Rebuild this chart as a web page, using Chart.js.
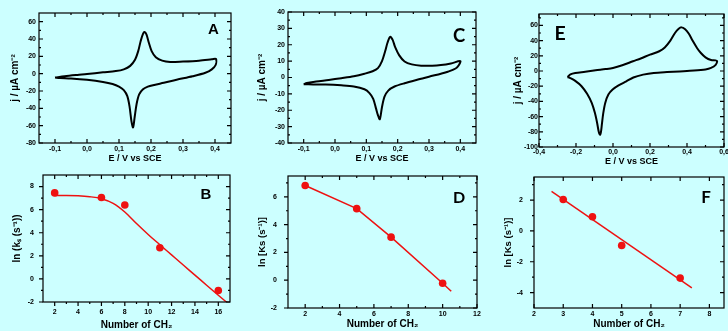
<!DOCTYPE html>
<html><head><meta charset="utf-8">
<script src="https://cdn.jsdelivr.net/npm/chart.js@4.4.1/dist/chart.umd.min.js"></script>
<style>
html,body{margin:0;padding:0;background:#ccffff;width:728px;height:331px;overflow:hidden;}
.layer{position:absolute;left:0;top:0;width:728px;height:331px;}
.lab{position:absolute;font-weight:bold;color:#000;line-height:1;transform:translate(-50%,-50%);white-space:nowrap;}
</style></head><body>
<div class="layer"><canvas id="cA" width="728" height="331"></canvas></div>
<div class="layer"><canvas id="cC" width="728" height="331"></canvas></div>
<div class="layer"><canvas id="cE" width="728" height="331"></canvas></div>
<div class="layer"><canvas id="cB" width="728" height="331"></canvas></div>
<div class="layer"><canvas id="cD" width="728" height="331"></canvas></div>
<div class="layer"><canvas id="cF" width="728" height="331"></canvas></div>
<div class="lab" style="left:213.5px;top:27.5px;font-family:'Liberation Sans',Arial;font-size:15px;">A</div>
<div class="lab" style="left:206px;top:193px;font-family:'Liberation Sans',Arial;font-size:15px;">B</div>
<div class="lab" style="left:459px;top:35px;font-family:Lato,'Open Sans';font-size:18.5px;">C</div>
<div class="lab" style="left:459px;top:197px;font-family:Lato,'Open Sans';font-size:16px;">D</div>
<div class="lab" style="left:560px;top:33px;font-family:Lato,'Open Sans';font-size:19.5px;">E</div>
<div class="lab" style="left:706px;top:196px;font-family:Lato,'Open Sans';font-size:17px;">F</div>
<script>
// ================= DATA =================
// Panel A : cyclic voltammogram (E / V vs SCE, j / uA cm-2)
const A_E = [-0.100,-0.07,-0.03,0.00,0.05,0.09,0.115,0.135,0.150,0.160,0.168,0.175,0.180,0.186,0.193,0.202,0.215,0.235,0.26,0.30,0.35,0.39,0.403,
             0.402,0.39,0.37,0.33,0.28,0.24,0.21,0.19,0.175,0.163,0.155,0.149,0.144,0.139,0.133,0.126,0.115,0.10,0.08,0.05,0.00,-0.05,-0.085,-0.100];
const A_j = [-4.5,-3.0,-1.5,-0.5,1.5,3.0,5.0,9,16,26,38,46,48,45,36,26,19,15,13.5,14,15,16.5,17,
             10,5,1,-3,-7,-10.5,-13,-15,-18,-24,-35,-50,-62,-55,-38,-26,-19,-15,-12,-9.5,-7,-5.5,-5,-4.5];
const A_xTicks = [-0.1,0.0,0.1,0.2,0.3,0.4];
const A_yTicks = [-80,-60,-40,-20,0,20,40,60];

// Panel C : cyclic voltammogram
const C_E = [-0.100,-0.09,-0.06,-0.02,0.02,0.06,0.094,0.12,0.137,0.150,0.160,0.168,0.176,0.184,0.192,0.205,0.222,0.245,0.275,0.31,0.338,0.37,0.40,
             0.395,0.385,0.36,0.338,0.30,0.275,0.222,0.19,0.17,0.158,0.150,0.143,0.137,0.131,0.122,0.11,0.094,0.06,0.02,-0.03,-0.07,-0.100];
const C_j = [-4.1,-3.4,-2.5,-1.5,-0.4,0.8,2.3,3.8,5.7,10,16,21.5,24.8,23,18.5,13.5,9.8,8,7.2,7.2,7.6,8.6,10,
             7.5,5.5,3.5,2.3,0.5,-0.8,-3.5,-5.5,-8,-11.7,-18,-25.5,-23,-19,-13,-9.5,-7.2,-5.5,-4.8,-4.3,-4.2,-4.1];
const C_xTicks = [-0.1,0.0,0.1,0.2,0.3,0.4];
const C_yTicks = [-40,-30,-20,-10,0,10,20,30,40];

// Panel E : cyclic voltammogram
const E_E = [-0.246,-0.23,-0.204,-0.15,-0.094,-0.04,0.0,0.05,0.108,0.15,0.2,0.25,0.28,0.31,0.335,0.355,0.37,0.39,0.41,0.43,0.455,0.475,0.50,0.53,0.555,0.563,
             0.555,0.53,0.5,0.438,0.36,0.292,0.22,0.163,0.11,0.072,0.03,-0.002,-0.025,-0.042,-0.053,-0.060,-0.065,-0.070,-0.077,-0.086,-0.098,-0.115,-0.14,-0.17,-0.204,-0.23,-0.246];
const E_j = [-8,-4.5,-2.6,-1,0.9,2.5,4,7.5,12.8,16.5,21.5,26,31,40,50,55.5,57.4,55,49,40,30,23.7,18,14.5,14,13,
             8,4,2,0.5,-0.5,-1.3,-2.5,-4.8,-8.5,-13.6,-19,-24.4,-31,-42,-56,-70,-80,-84,-80,-68,-55,-42,-30,-20,-13,-9.5,-8];
const E_xTicks = [-0.4,-0.2,0.0,0.2,0.4,0.6];
const E_yTicks = [-100,-80,-60,-40,-20,0,20,40,60];

// Panel B : ln(ks) vs number of CH2
const B_n   = [2,6,8,11,16];
const B_lnk = [7.45,7.05,6.4,2.7,-1.0];
const B_fitN = [2,3,4,5,6,7,8,9,10,11,12,13,14,15,16,16.8];
const B_fitY = [7.22,7.22,7.2,7.12,6.95,6.55,5.8,4.8,3.85,2.96,2.08,1.2,0.33,-0.55,-1.42,-2.1];
const B_xTicks = [2,4,6,8,10,12,14,16];
const B_yTicks = [-2,0,2,4,6,8];

// Panel D
const D_n   = [2,5,7,10];
const D_lnk = [6.82,5.15,3.1,-0.22];
const D_lineN = [2,5,7,10,10.5];
const D_lineY = [6.82,5.15,3.1,-0.22,-0.8];
const D_xTicks = [2,4,6,8,10,12];
const D_yTicks = [-2,0,2,4,6];

// Panel F
const F_n   = [3,4,5,7];
const F_lnk = [2.04,0.92,-0.94,-3.06];
const F_fitN = [2.6,7.4];
const F_fitY = [2.56,-3.7];
const F_xTicks = [2,3,4,5,6,7,8];
const F_yTicks = [-4,-2,0,2];

// ================= DRAWING =================
const RED = '#ee1111';
const pts = (xs, ys) => xs.map((x, i) => ({x: x, y: ys[i]}));
const fmt = (v, d) => d ? v.toFixed(d).replace('.', ',') : String(v);
const tickFont = {family: "'Liberation Sans', Arial", size: 7, weight: 'bold'};
const tf = s => ({family: "'Liberation Sans', Arial", size: s, weight: 'bold'});

const frameTicks = {
  id: 'frameTicks',
  afterDraw(chart, args, o) {
    const {ctx, chartArea: a} = chart;
    const xs = chart.scales.x, ys = chart.scales.y;
    ctx.save();
    ctx.strokeStyle = '#000';
    ctx.lineWidth = 1.2;
    ctx.strokeRect(a.left, a.top, a.right - a.left, a.bottom - a.top);
    const mk = (s, noMinor) => {
      const maj = s.ticks.map(t => t.value), mn = [];
      if (!noMinor) {
        const st = maj[1] - maj[0];
        for (let i = 0; i < maj.length - 1; i++) mn.push((maj[i] + maj[i + 1]) / 2);
        if (maj[0] - st / 2 > s.min) mn.push(maj[0] - st / 2);
        if (maj[maj.length - 1] + st / 2 < s.max) mn.push(maj[maj.length - 1] + st / 2);
      }
      return {maj, mn};
    };
    const X = mk(xs, o.noMinorX), Y = mk(ys, o.noMinorY);
    ctx.beginPath();
    const dx = (vals, len) => vals.forEach(v => {
      const p = xs.getPixelForValue(v);
      const d = o.xOut ? 1 : -1;
      ctx.moveTo(p, a.bottom); ctx.lineTo(p, a.bottom + d * len);
      ctx.moveTo(p, a.top); ctx.lineTo(p, a.top + len);
    });
    const dy = (vals, len) => vals.forEach(v => {
      const p = ys.getPixelForValue(v);
      const d = o.yOut ? -1 : 1;
      ctx.moveTo(a.left, p); ctx.lineTo(a.left + d * len, p);
      ctx.moveTo(a.right, p); ctx.lineTo(a.right - len, p);
    });
    dx(X.maj, 4); dx(X.mn, 2); dy(Y.maj, 4); dy(Y.mn, 2);
    ctx.stroke();
    ctx.restore();
  }
};

function panel(id, g, o) {
  return new Chart(document.getElementById(id), {
    type: 'scatter',
    data: {datasets: o.datasets},
    options: {
      responsive: false, animation: false, events: [],
      layout: {padding: {left: g.L - g.YW, top: g.T, right: 728 - g.R, bottom: 331 - g.B - g.XH}},
      plugins: {legend: {display: false}, tooltip: {enabled: false}, frameTicks: o.frame},
      scales: {
        x: {type: 'linear', min: o.xMin, max: o.xMax,
            afterBuildTicks: s => { s.ticks = o.xTicks.map(v => ({value: v})); },
            afterFit: s => { s.height = g.XH; s.paddingLeft = 0; s.paddingRight = 0; },
            grid: {display: false, drawTicks: false}, border: {display: false},
            ticks: {color: '#000', font: tickFont, padding: o.xPad, autoSkip: false, maxRotation: 0,
                    callback: v => fmt(v, o.xDec)},
            title: {display: true, text: o.xTitle, color: '#000', font: tf(o.xTs), padding: 0}},
        y: {type: 'linear', min: o.yMin, max: o.yMax,
            afterBuildTicks: s => { s.ticks = o.yTicks.map(v => ({value: v})); },
            afterFit: s => { s.width = g.YW; s.paddingTop = 0; s.paddingBottom = 0; },
            grid: {display: false, drawTicks: false}, border: {display: false},
            ticks: {color: '#000', font: tickFont, padding: o.yPad, autoSkip: false,
                    callback: v => fmt(v, 0)},
            title: {display: true, text: o.yTitle, color: '#000', font: tf(o.yTs), padding: 0}}
      }
    },
    plugins: [frameTicks]
  });
}

const cvSet = (xs, ys) => ({data: pts(xs, ys), showLine: true, borderColor: '#000', borderWidth: 2,
  pointRadius: 0, tension: 0.3, fill: false});
const dotSet = (xs, ys) => ({data: pts(xs, ys), showLine: false, pointRadius: 3.8,
  pointBackgroundColor: RED, pointBorderColor: RED, pointBorderWidth: 0});
const lineSet = (xs, ys, mono) => ({data: pts(xs, ys), showLine: true, borderColor: RED, borderWidth: 1.5,
  pointRadius: 0, cubicInterpolationMode: mono ? 'monotone' : 'default', tension: 0});

const jTitle = 'j / \u00b5A cm\u207b\u00b2';
const vTitle = 'E / V vs SCE';
const nTitle = 'Number of CH\u2082';

panel('cA', {L: 39, T: 13, R: 231, B: 143, YW: 30, XH: 21}, {
  datasets: [cvSet(A_E, A_j)], xMin: -0.15, xMax: 0.45, yMin: -80, yMax: 70,
  xTicks: A_xTicks, yTicks: A_yTicks, xDec: 1, xPad: 2, yPad: 3,
  xTitle: vTitle, yTitle: jTitle, xTs: 9, yTs: 10, frame: {}
});
panel('cC', {L: 288, T: 12, R: 476, B: 143, YW: 32, XH: 21}, {
  datasets: [cvSet(C_E, C_j)], xMin: -0.15, xMax: 0.45, yMin: -40, yMax: 40,
  xTicks: C_xTicks, yTicks: C_yTicks, xDec: 1, xPad: 2, yPad: 3,
  xTitle: vTitle, yTitle: jTitle, xTs: 9, yTs: 10, frame: {}
});
panel('cE', {L: 539, T: 14, R: 724, B: 147, YW: 27, XH: 20}, {
  datasets: [cvSet(E_E, E_j)], xMin: -0.4, xMax: 0.6, yMin: -100, yMax: 75,
  xTicks: E_xTicks, yTicks: E_yTicks, xDec: 1, xPad: 1, yPad: 1,
  xTitle: vTitle, yTitle: jTitle, xTs: 9, yTs: 10, frame: {}
});
panel('cB', {L: 43, T: 175, R: 230, B: 302, YW: 32, XH: 29}, {
  datasets: [lineSet(B_fitN, B_fitY, true), dotSet(B_n, B_lnk)], xMin: 1, xMax: 17, yMin: -2, yMax: 9,
  xTicks: B_xTicks, yTicks: B_yTicks, xDec: 0, xPad: 6, yPad: 9,
  xTitle: nTitle, yTitle: 'ln (k\u209b (s\u207b\u00b9))', xTs: 10, yTs: 10, frame: {xOut: true, yOut: true}
});
panel('cD', {L: 288, T: 176, R: 477, B: 308, YW: 31, XH: 22}, {
  datasets: [lineSet(D_lineN, D_lineY, false), dotSet(D_n, D_lnk)], xMin: 1, xMax: 12, yMin: -2, yMax: 7.5,
  xTicks: D_xTicks, yTicks: D_yTicks, xDec: 0, xPad: 2, yPad: 11,
  xTitle: nTitle, yTitle: 'ln [Ks (s\u207b\u00b9)]', xTs: 10, yTs: 9.5, frame: {yOut: true}
});
panel('cF', {L: 534, T: 177, R: 727, B: 308, YW: 31, XH: 22}, {
  datasets: [lineSet(F_fitN, F_fitY, false), dotSet(F_n, F_lnk)], xMin: 2, xMax: 8.5, yMin: -5, yMax: 3.5,
  xTicks: F_xTicks, yTicks: F_yTicks, xDec: 0, xPad: 2, yPad: 11,
  xTitle: nTitle, yTitle: 'ln [Ks (s\u207b\u00b9)]', xTs: 10, yTs: 9.5, frame: {yOut: true, noMinorX: true}
});
</script>
</body></html>
